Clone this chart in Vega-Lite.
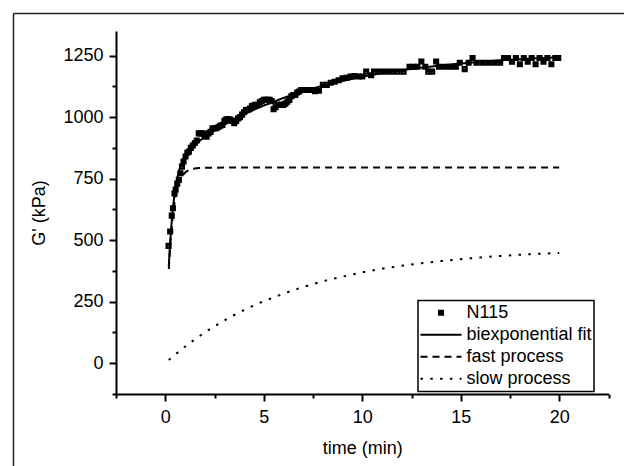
{
  "$schema": "https://vega.github.io/schema/vega-lite/v6.json",
  "width": 492.5,
  "height": 363,
  "autosize": {"type": "none"},
  "padding": {"left": 116, "top": 31, "right": 16, "bottom": 72},
  "background": "white",
  "config": {
    "view": {"stroke": null},
    "font": "Liberation Sans",
    "axis": {
      "domainColor": "black", "domainWidth": 2, "tickColor": "black", "tickWidth": 2,
      "labelColor": "black", "labelFontSize": 18, "labelFont": "Liberation Sans",
      "titleFont": "Liberation Sans", "titleFontSize": 18, "titleFontWeight": "normal", "titleColor": "black",
      "grid": false, "labelPadding": 5, "labelOverlap": false, "labelFlush": false
    },
    "legend": {
      "strokeColor": "black", "strokeWidth": 1.5, "padding": 1.5, "rowPadding": 0,
      "labelFont": "Liberation Sans", "labelFontSize": 18, "labelColor": "black", "labelOffset": 4, "labelLimit": 400,
      "symbolSize": 1681, "clipHeight": 21.5, "symbolStrokeColor": "black", "symbolStrokeWidth": 2,
      "symbolOffset": 0, "fillColor": "white"
    }
  },
  "data": {"values": [
    {"s":"N115","t":0.17,"g":477},{"s":"N115","t":0.25,"g":535},{"s":"N115","t":0.33,"g":600},{"s":"N115","t":0.39,"g":630},
    {"s":"N115","t":0.47,"g":690},{"s":"N115","t":0.53,"g":706},{"s":"N115","t":0.61,"g":730},{"s":"N115","t":0.69,"g":745},
    {"s":"N115","t":0.77,"g":772},{"s":"N115","t":0.85,"g":799},{"s":"N115","t":0.93,"g":820},{"s":"N115","t":1.03,"g":840},
    {"s":"N115","t":1.12,"g":855},{"s":"N115","t":1.2,"g":860},{"s":"N115","t":1.3,"g":875},{"s":"N115","t":1.4,"g":885},
    {"s":"N115","t":1.5,"g":895},{"s":"N115","t":1.6,"g":905},{"s":"N115","t":1.7,"g":934},{"s":"N115","t":1.8,"g":934},
    {"s":"N115","t":1.9,"g":934},{"s":"N115","t":2.0,"g":925},{"s":"N115","t":2.1,"g":920},{"s":"N115","t":2.2,"g":934},
    {"s":"N115","t":2.3,"g":940},{"s":"N115","t":2.4,"g":955},{"s":"N115","t":2.5,"g":955},{"s":"N115","t":2.6,"g":955},
    {"s":"N115","t":2.7,"g":960},{"s":"N115","t":2.8,"g":965},{"s":"N115","t":2.9,"g":968},{"s":"N115","t":3.0,"g":985},
    {"s":"N115","t":3.1,"g":991},{"s":"N115","t":3.2,"g":991},{"s":"N115","t":3.3,"g":990},{"s":"N115","t":3.4,"g":985},
    {"s":"N115","t":3.5,"g":975},{"s":"N115","t":3.6,"g":985},{"s":"N115","t":3.7,"g":995},{"s":"N115","t":3.8,"g":1000},
    {"s":"N115","t":3.9,"g":1010},{"s":"N115","t":4.0,"g":1020},{"s":"N115","t":4.1,"g":1029},{"s":"N115","t":4.2,"g":1030},
    {"s":"N115","t":4.3,"g":1035},{"s":"N115","t":4.4,"g":1045},{"s":"N115","t":4.5,"g":1048},{"s":"N115","t":4.6,"g":1050},
    {"s":"N115","t":4.7,"g":1050},{"s":"N115","t":4.8,"g":1060},{"s":"N115","t":4.9,"g":1065},{"s":"N115","t":5.0,"g":1070},
    {"s":"N115","t":5.1,"g":1070},{"s":"N115","t":5.2,"g":1070},{"s":"N115","t":5.3,"g":1070},{"s":"N115","t":5.4,"g":1065},
    {"s":"N115","t":5.5,"g":1032},{"s":"N115","t":5.6,"g":1040},{"s":"N115","t":5.7,"g":1050},{"s":"N115","t":5.8,"g":1050},
    {"s":"N115","t":5.9,"g":1050},{"s":"N115","t":6.0,"g":1050},{"s":"N115","t":6.1,"g":1055},{"s":"N115","t":6.2,"g":1063},
    {"s":"N115","t":6.3,"g":1070},{"s":"N115","t":6.4,"g":1085},{"s":"N115","t":6.5,"g":1090},{"s":"N115","t":6.6,"g":1090},
    {"s":"N115","t":6.7,"g":1100},{"s":"N115","t":6.8,"g":1104},{"s":"N115","t":6.9,"g":1110},{"s":"N115","t":7.0,"g":1110},
    {"s":"N115","t":7.2,"g":1110},{"s":"N115","t":7.4,"g":1110},{"s":"N115","t":7.6,"g":1105},{"s":"N115","t":7.8,"g":1107},
    {"s":"N115","t":8.0,"g":1131},{"s":"N115","t":8.2,"g":1131},{"s":"N115","t":8.4,"g":1140},{"s":"N115","t":8.6,"g":1144},
    {"s":"N115","t":8.8,"g":1150},{"s":"N115","t":9.0,"g":1158},{"s":"N115","t":9.2,"g":1160},{"s":"N115","t":9.4,"g":1165},
    {"s":"N115","t":9.6,"g":1167},{"s":"N115","t":9.8,"g":1165},{"s":"N115","t":10.0,"g":1165},{"s":"N115","t":10.2,"g":1185},
    {"s":"N115","t":10.45,"g":1170},{"s":"N115","t":10.6,"g":1185},{"s":"N115","t":10.9,"g":1185},{"s":"N115","t":11.2,"g":1185},
    {"s":"N115","t":11.5,"g":1185},{"s":"N115","t":11.8,"g":1185},{"s":"N115","t":12.1,"g":1185},{"s":"N115","t":12.4,"g":1205},
    {"s":"N115","t":12.6,"g":1205},{"s":"N115","t":12.8,"g":1205},{"s":"N115","t":13.0,"g":1226},{"s":"N115","t":13.2,"g":1205},
    {"s":"N115","t":13.35,"g":1185},{"s":"N115","t":13.55,"g":1185},{"s":"N115","t":13.75,"g":1226},{"s":"N115","t":13.9,"g":1205},
    {"s":"N115","t":14.2,"g":1205},{"s":"N115","t":14.5,"g":1205},{"s":"N115","t":14.75,"g":1205},{"s":"N115","t":14.95,"g":1221},
    {"s":"N115","t":15.2,"g":1195},{"s":"N115","t":15.4,"g":1221},{"s":"N115","t":15.6,"g":1240},{"s":"N115","t":15.8,"g":1221},
    {"s":"N115","t":16.1,"g":1221},{"s":"N115","t":16.4,"g":1221},{"s":"N115","t":16.7,"g":1221},{"s":"N115","t":17.0,"g":1221},
    {"s":"N115","t":17.2,"g":1240},{"s":"N115","t":17.4,"g":1240},{"s":"N115","t":17.6,"g":1225},{"s":"N115","t":17.8,"g":1240},
    {"s":"N115","t":18.0,"g":1215},{"s":"N115","t":18.2,"g":1240},{"s":"N115","t":18.4,"g":1225},{"s":"N115","t":18.6,"g":1240},
    {"s":"N115","t":18.8,"g":1215},{"s":"N115","t":19.0,"g":1240},{"s":"N115","t":19.2,"g":1225},{"s":"N115","t":19.4,"g":1240},
    {"s":"N115","t":19.6,"g":1215},{"s":"N115","t":19.8,"g":1240},{"s":"N115","t":19.95,"g":1240},

    {"s":"biexponential fit","t":0.18,"g":396},{"s":"biexponential fit","t":0.25,"g":494},{"s":"biexponential fit","t":0.35,"g":599},
    {"s":"biexponential fit","t":0.45,"g":673},{"s":"biexponential fit","t":0.55,"g":726},{"s":"biexponential fit","t":0.65,"g":767},
    {"s":"biexponential fit","t":0.75,"g":795},{"s":"biexponential fit","t":0.9,"g":827},{"s":"biexponential fit","t":1.05,"g":848},
    {"s":"biexponential fit","t":1.2,"g":864},{"s":"biexponential fit","t":1.4,"g":881},{"s":"biexponential fit","t":1.7,"g":901},
    {"s":"biexponential fit","t":2.0,"g":919},{"s":"biexponential fit","t":2.5,"g":945},{"s":"biexponential fit","t":3.0,"g":969},
    {"s":"biexponential fit","t":3.5,"g":991},{"s":"biexponential fit","t":4.0,"g":1011},{"s":"biexponential fit","t":4.5,"g":1030},
    {"s":"biexponential fit","t":5.0,"g":1047},{"s":"biexponential fit","t":6.0,"g":1078},{"s":"biexponential fit","t":7.0,"g":1105},
    {"s":"biexponential fit","t":8.0,"g":1128},{"s":"biexponential fit","t":9.0,"g":1147},{"s":"biexponential fit","t":10.0,"g":1164},
    {"s":"biexponential fit","t":11.0,"g":1179},{"s":"biexponential fit","t":12.0,"g":1191},{"s":"biexponential fit","t":13.0,"g":1201},
    {"s":"biexponential fit","t":14.0,"g":1210},{"s":"biexponential fit","t":15.0,"g":1218},{"s":"biexponential fit","t":16.0,"g":1225},
    {"s":"biexponential fit","t":17.0,"g":1231},{"s":"biexponential fit","t":18.0,"g":1235},{"s":"biexponential fit","t":19.0,"g":1240},
    {"s":"biexponential fit","t":20.0,"g":1243},

    {"s":"fast process","t":0.18,"g":383},{"s":"fast process","t":0.25,"g":476},{"s":"fast process","t":0.35,"g":574},
    {"s":"fast process","t":0.45,"g":642},{"s":"fast process","t":0.55,"g":688},{"s":"fast process","t":0.65,"g":722},
    {"s":"fast process","t":0.75,"g":744},{"s":"fast process","t":0.9,"g":766},{"s":"fast process","t":1.05,"g":778},
    {"s":"fast process","t":1.2,"g":785},{"s":"fast process","t":1.4,"g":790},{"s":"fast process","t":1.7,"g":793},
    {"s":"fast process","t":2.0,"g":794},{"s":"fast process","t":3.0,"g":795},{"s":"fast process","t":5.0,"g":795},
    {"s":"fast process","t":10.0,"g":795},{"s":"fast process","t":15.0,"g":795},{"s":"fast process","t":20.0,"g":795},

    {"s":"slow process","t":0.18,"g":13},{"s":"slow process","t":0.25,"g":18},{"s":"slow process","t":0.35,"g":25},
    {"s":"slow process","t":0.45,"g":31},{"s":"slow process","t":0.55,"g":38},{"s":"slow process","t":0.65,"g":45},
    {"s":"slow process","t":0.75,"g":51},{"s":"slow process","t":0.9,"g":61},{"s":"slow process","t":1.05,"g":70},
    {"s":"slow process","t":1.2,"g":79},{"s":"slow process","t":1.4,"g":91},{"s":"slow process","t":1.7,"g":108},
    {"s":"slow process","t":2.0,"g":125},{"s":"slow process","t":2.5,"g":150},{"s":"slow process","t":3.0,"g":174},
    {"s":"slow process","t":3.5,"g":196},{"s":"slow process","t":4.0,"g":216},{"s":"slow process","t":4.5,"g":235},
    {"s":"slow process","t":5.0,"g":252},{"s":"slow process","t":6.0,"g":283},{"s":"slow process","t":7.0,"g":310},
    {"s":"slow process","t":8.0,"g":333},{"s":"slow process","t":9.0,"g":352},{"s":"slow process","t":10.0,"g":369},
    {"s":"slow process","t":11.0,"g":384},{"s":"slow process","t":12.0,"g":396},{"s":"slow process","t":13.0,"g":406},
    {"s":"slow process","t":14.0,"g":415},{"s":"slow process","t":15.0,"g":423},{"s":"slow process","t":16.0,"g":430},
    {"s":"slow process","t":17.0,"g":436},{"s":"slow process","t":18.0,"g":441},{"s":"slow process","t":19.0,"g":445},
    {"s":"slow process","t":20.0,"g":448}
  ]},
  "resolve": {"scale": {"x": "independent", "y": "independent"}},
  "layer": [
    {
      "transform": [{"filter": "datum.s !== 'N115'"}],
      "mark": {"type": "line", "color": "black", "strokeWidth": 2, "strokeCap": "butt"},
      "encoding": {
        "x": {
          "field": "t", "type": "quantitative",
          "scale": {"domain": [-2.5, 22.5], "nice": false, "zero": false},
          "axis": {
            "orient": "bottom", "title": "time (min)", "titlePadding": 13, "labelPadding": 7,
            "values": [-2.5, 0, 2.5, 5, 7.5, 10, 12.5, 15, 17.5, 20, 22.5],
            "tickSize": {"condition": {"test": "datum.value % 5 === 0", "value": 7}, "value": 4},
            "labelExpr": "datum.value % 5 === 0 ? datum.label : ''"
          }
        },
        "y": {
          "field": "g", "type": "quantitative",
          "scale": {"domain": [-125, 1350], "nice": false, "zero": false},
          "axis": {
            "orient": "left", "title": "G' (kPa)", "titlePadding": 14, "labelPadding": 6, "format": "d",
            "values": [-125, 0, 125, 250, 375, 500, 625, 750, 875, 1000, 1125, 1250],
            "tickSize": {"condition": {"test": "datum.value % 250 === 0", "value": 7}, "value": 4},
            "labelExpr": "datum.value % 250 === 0 ? datum.label : ''"
          }
        },
        "strokeDash": {
          "field": "s", "type": "nominal",
          "scale": {
            "domain": ["N115", "biexponential fit", "fast process", "slow process"],
            "range": [[1, 0], [1, 0], [7, 5], [2.5, 7.3]]
          },
          "legend": {"title": null, "orient": "none", "legendX": 302, "legendY": 269.5}
        }
      }
    },
    {
      "transform": [{"filter": "datum.s === 'N115'"}],
      "mark": {"type": "point", "filled": false, "color": "black", "strokeWidth": 2, "opacity": 1, "size": 1681},
      "encoding": {
        "x": {
          "field": "t", "type": "quantitative",
          "scale": {"domain": [-2.5, 22.5], "nice": false, "zero": false},
          "axis": null
        },
        "y": {
          "field": "g", "type": "quantitative",
          "scale": {"domain": [-125, 1350], "nice": false, "zero": false},
          "axis": null
        },
        "shape": {
          "field": "s", "type": "nominal",
          "scale": {
            "domain": ["N115", "biexponential fit", "fast process", "slow process"],
            "range": ["M-0.1,-0.1H0.1V0.1H-0.1ZM-0.1,0H0.1", "M-1,0H1", "M-1,0H1", "M-1,0H1"]
          },
          "legend": {"title": null, "orient": "none", "legendX": 302, "legendY": 269.5}
        }
      }
    },
    {
      "transform": [{"filter": "datum.s === 'fast process' && datum.t === 20"}],
      "mark": {"type": "point", "opacity": 0},
      "encoding": {
        "x": {
          "field": "t", "type": "quantitative",
          "scale": {"domain": [0, 25], "range": [-103, 508], "nice": false, "zero": false},
          "axis": {"orient": "top", "offset": 18, "ticks": false, "labels": false, "title": null, "domainColor": "#222", "domainWidth": 1.5}
        },
        "y": {
          "field": "g", "type": "quantitative",
          "scale": {"domain": [0, 1400], "range": [435, -18], "nice": false, "zero": false},
          "axis": {"orient": "left", "offset": 103, "ticks": false, "labels": false, "title": null, "domainColor": "#222", "domainWidth": 1.5}
        }
      }
    }
  ]
}
